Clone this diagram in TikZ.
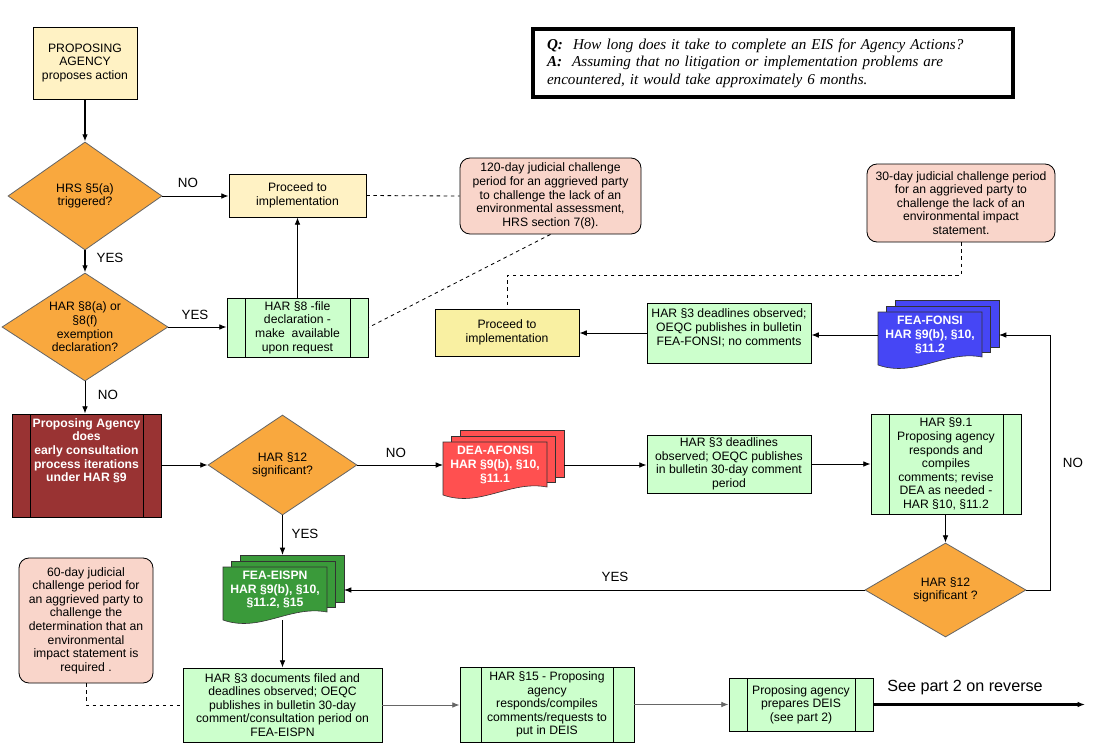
\documentclass[tikz,border=0pt]{standalone}
\usepackage{fontspec}
\setmainfont{Liberation Sans}
\newfontfamily\qafont{Liberation Serif}
\usepackage{tikz}
\usetikzlibrary{shapes.geometric,arrows.meta}
\definecolor{paleYellow}{HTML}{FFF2C4}
\definecolor{sandYellow}{HTML}{F9F0A2}
\definecolor{deciOrange}{HTML}{F9A83E}
\definecolor{paleGreen}{HTML}{CCFFCC}
\definecolor{palePink}{HTML}{F9D5CA}
\definecolor{brickRed}{HTML}{993333}
\definecolor{docRed}{HTML}{FF5050}
\definecolor{docBlue}{HTML}{4646F5}
\definecolor{docGreen}{HTML}{3A9A3A}

% stack of three pages: name, left, top, right, colour, text
\newcommand{\docstack}[6]{%
  \filldraw[fill=#5,draw=black!80,line width=0.5pt] ({#2+17},{#3-12}) rectangle ({#4+17},{#3+35});
  \filldraw[fill=#5,draw=black!80,line width=0.5pt] ({#2+8},{#3-6}) rectangle ({#4+8},{#3+40});
  \filldraw[fill=#5,draw=black!80,line width=0.5pt] (#2,#3) -- (#4,#3) -- (#4,{#3+45})
     .. controls ({#4-37},{#3+38}) and ({#2+37},{#3+66}) .. (#2,{#3+53}) -- cycle;
  \node[doctext] (#1) at ({(#2+#4)/2},{#3+23}) {#6};
  \coordinate (#1-front) at (#2,{#3+23});
  \coordinate (#1-back) at ({#4+17},{#3+23});
  \coordinate (#1-top) at ({(#2+#4)/2},{#3-12});
  \coordinate (#1-bottom) at ({(#2+#4)/2},{#3+53});
}

\begin{document}
\begin{tikzpicture}[x=0.3mm,y=-0.3mm,line width=0.7pt,
    >={Latex[length=2.2mm,width=1.7mm]},
    txt/.style={font=\fontsize{10.4}{11.6}\selectfont,align=center,inner sep=1pt},
    sz/.style 2 args={minimum width=#1*0.3mm,minimum height=#2*0.3mm},
    yellowbox/.style={draw,fill=paleYellow,txt},
    greenbox/.style={draw,fill=paleGreen,txt},
    procbox/.style={greenbox,path picture={
      \draw ([xshift=#1]path picture bounding box.north west) -- ([xshift=#1]path picture bounding box.south west)
            ([xshift=-#1]path picture bounding box.north east) -- ([xshift=-#1]path picture bounding box.south east);}},
    procbox/.default=5.4mm,
    redproc/.style={procbox,fill=brickRed,text=white,font=\fontsize{10.4}{11.6}\selectfont\bfseries},
    decision/.style={diamond,shape aspect=1.5,draw=black!60,fill=deciOrange,txt},
    callout/.style={draw,rounded corners=3mm,fill=palePink,txt},
    doctext/.style={txt,text=white,font=\fontsize{10.4}{11.6}\selectfont\bfseries},
    yesno/.style={font=\fontsize{11.4}{13}\selectfont},
    flow/.style={->,line width=0.8pt},
    mainflow/.style={->,line width=2.2pt}]
  \useasboundingbox (0,0) rectangle (1106,746);

  % question box
  \node[draw,line width=1.2mm,minimum height=20.4mm,text width=135.6mm,inner xsep=4.2mm,align=left,
        font=\qafont\itshape\fontsize{12.9}{15}\selectfont] (qa) at (773,63)
    {\textbf{Q:}~ How long does it take to complete an EIS for Agency Actions?\\
     \textbf{A:}~ Assuming that no litigation or implementation problems are\\
     encountered, it would take approximately 6 months.};

  % left column
  \node[yellowbox,sz={104}{72}] (agency) at (85,63) {PROPOSING\\AGENCY\\proposes action};
  \node[decision,sz={154}{108}] (hrs5) at (85,196) {HRS §5(a)\\triggered?};
  \node[yellowbox,sz={137}{43}] (proceed1) at (297.5,195.5) {Proceed to\\implementation};
  \node[decision,sz={166}{108}] (har8) at (85,327) {HAR §8(a) or\\§8(f)\\exemption\\declaration?};
  \node[procbox,sz={141}{59}] (file8) at (297.5,327.5) {HAR §8 -file\\declaration -\\make~ available\\upon request};
  \node[redproc,sz={149}{103},text depth=9.3mm] (early) at (86.5,465.5)
    {Proposing Agency\\does\\early consultation\\process iterations\\under HAR §9};
  \node[decision,sz={149}{100}] (sig1) at (282.5,465) {HAR §12\\significant?};

  % middle and right
  \docstack{dea}{443}{442}{547}{docRed}{DEA-AFONSI\\HAR §9(b), §10,\\§11.1}
  \node[greenbox,sz={164}{58}] (pub30) at (729,464)
    {HAR §3 deadlines\\observed; OEQC publishes\\in bulletin 30-day comment\\period};
  \node[procbox,sz={150}{100}] (rev91) at (946,464)
    {HAR §9.1\\Proposing agency\\responds and\\compiles\\comments; revise\\DEA as needed -\\HAR §10, §11.2};
  \node[decision,sz={161}{94}] (sig2) at (945.5,590) {HAR §12\\significant ?};
  \docstack{fonsi}{878}{312}{982}{docBlue}{FEA-FONSI\\HAR §9(b), §10,\\§11.2}
  \node[greenbox,sz={164}{60},text depth=3.6mm] (fonsipub) at (729,333)
    {HAR §3 deadlines observed;\\OEQC publishes in bulletin\\FEA-FONSI; no comments};
  \node[yellowbox,fill=sandYellow,sz={144}{47}] (proceed2) at (507,332.5) {Proceed to\\implementation};

  % bottom row
  \docstack{eispn}{223}{567}{327}{docGreen}{FEA-EISPN\\HAR §9(b), §10,\\§11.2, §15}
  \node[greenbox,sz={199}{74}] (hsdocs) at (282.5,705)
    {HAR §3 documents filed and\\deadlines observed; OEQC\\publishes in bulletin 30-day\\comment/consultation period on\\FEA-EISPN};
  \node[procbox=6.3mm,sz={174}{75}] (har15) at (547,704.5)
    {HAR §15 - Proposing\\agency\\responds/compiles\\comments/requests to\\put in DEIS};
  \node[procbox,sz={144}{53}] (deis) at (801,704.5) {Proposing agency\\prepares DEIS\\(see part 2)};
  \coordinate (partTwo) at (1085,704.5);

  % judicial challenge notes
  \node[callout,sz={181}{76}] (call1) at (550.5,196)
    {120-day judicial challenge\\period for an aggrieved party\\to challenge the lack of an\\environmental assessment,\\HRS section 7(8).};
  \node[callout,sz={188}{78}] (call2) at (961,203)
    {30-day judicial challenge period\\for an aggrieved party to\\challenge the lack of an\\environmental impact\\statement.};
  \node[callout,sz={134}{125}] (call3) at (86,620.5)
    {60-day judicial\\challenge period for\\an aggrieved party to\\challenge the\\determination that an\\environmental\\impact statement is\\required .};

  % connectors
  \draw[mainflow] (agency.south) -- (hrs5.north);
  \draw[flow] (hrs5.east) -- (hrs5.east -| proceed1.west);
  \draw[mainflow] (hrs5.south) -- (har8.north);
  \draw[flow] (har8.east) -- (har8.east -| file8.west);
  \draw[flow] (file8.north) -- (proceed1.south);
  \draw[flow] (har8.south) -- (har8.south |- early.north);
  \draw[flow] (sig1.west -| early.east) -- (sig1.west);
  \draw[flow] (sig1.east) -- (dea-front);
  \draw[flow] (dea-back) -- (dea-back -| pub30.west);
  \draw[flow] (pub30.east) -- (pub30.east -| rev91.west);
  \draw[flow] (sig2.north |- rev91.south) -- (sig2.north);
  \draw[flow] (sig2.east) -- ++(24,0) |- (fonsi-back);
  \draw[flow] (fonsi-front) -- (fonsi-front -| fonsipub.east);
  \draw[flow] (fonsipub.west) -- (fonsipub.west -| proceed2.east);
  \draw[flow] (sig2.west) -- (sig2.west -| eispn-back);
  \draw[flow] (sig1.south) -- (sig1.south |- eispn-top);
  \draw[flow] (hsdocs.north |- eispn-bottom) -- (hsdocs.north);
  \draw[flow,black!60] (hsdocs.east) -- (hsdocs.east -| har15.west);
  \draw[flow,black!60] (har15.east) -- (har15.east -| deis.west);
  \draw[mainflow] (deis.east) -- (partTwo);

  \draw[dashed] (proceed1.east) -- (call1.west);
  \draw[dashed] (call1.south) -- (file8.east);
  \draw[dashed] (call2.south) -- ++(0,33) -| (proceed2.north);
  \draw[dashed] (call3.south) |- (hsdocs.west);

  % branch labels
  \node[yesno] (noHrs) at (188,183) {NO};
  \node[yesno] (yesHrs) at (110,258) {YES};
  \node[yesno] (yesHar) at (195,315) {YES};
  \node[yesno] (noHar) at (108,395) {NO};
  \node[yesno] (noSigA) at (396,453) {NO};
  \node[yesno] (yesSigA) at (305,534) {YES};
  \node[yesno] (yesSigB) at (615,577) {YES};
  \node[yesno] (noSigB) at (1073,463) {NO};
  \node[font=\fontsize{13.8}{16}\selectfont] (reverse) at (965,688) {See part 2 on reverse};
\end{tikzpicture}
\end{document}
